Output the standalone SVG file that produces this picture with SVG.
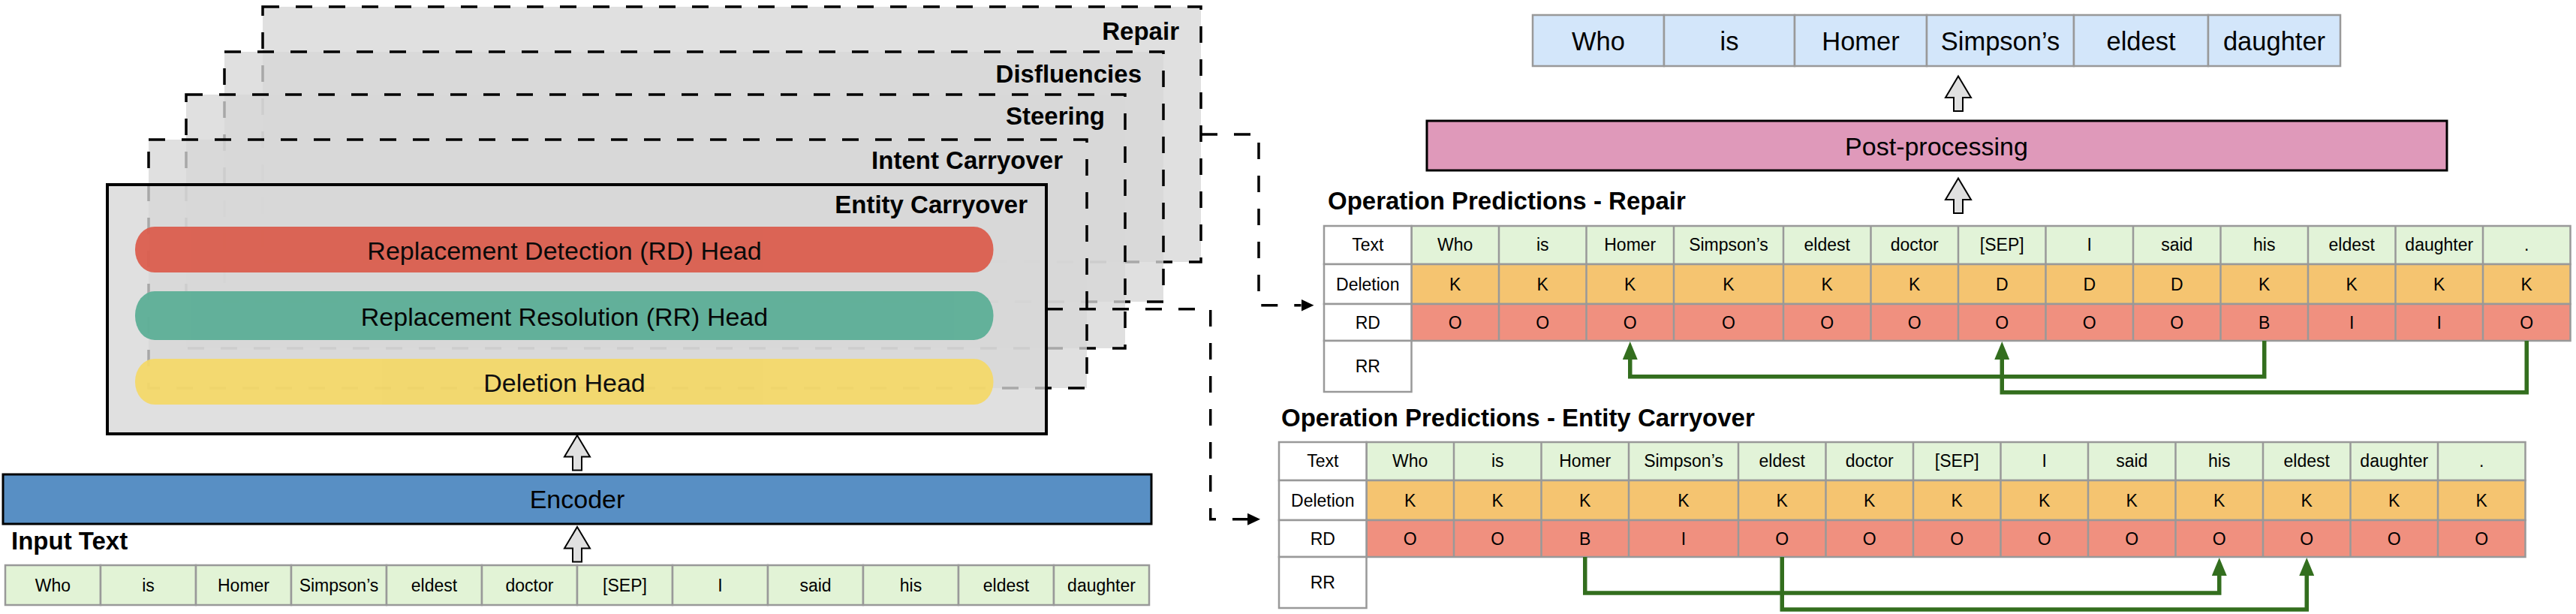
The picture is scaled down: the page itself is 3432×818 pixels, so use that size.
<svg xmlns="http://www.w3.org/2000/svg" width="3432" height="818" viewBox="0 0 3432 818">
<defs>
<style>
text{font-family:"Liberation Sans",Arial,Helvetica,sans-serif;fill:#000}
.b{font-weight:bold;font-size:33px}
.e{text-anchor:end}
.m{text-anchor:middle}
.h{font-size:34px}
.c{font-size:23px}
.stk{fill:#d7d7d7;fill-opacity:0.78;stroke:#000;stroke-width:3.5;stroke-dasharray:22 22}
.ent{fill:#d7d7d7;fill-opacity:0.78;stroke:#000;stroke-width:4}
.dc{fill:none;stroke:#000;stroke-width:3.5;stroke-dasharray:22 22}
.gr{fill:none;stroke:#336e1e;stroke-width:5.5}
.blk{fill:#e0e0e0;stroke:#000;stroke-width:2}
.cellb{stroke:#999;stroke-width:2.5}
.lc{fill:#fff;stroke:#999;stroke-width:2.5}
.vl{fill:none;stroke:#999;stroke-width:2.5}
</style>
<marker id="ahb" viewBox="0 0 17 16" markerWidth="17" markerHeight="16" refX="0" refY="8" orient="auto" markerUnits="userSpaceOnUse"><path d="M0,0 L17,8 L0,16 Z" fill="#000"/></marker>
<marker id="ahg" viewBox="0 0 24 20" markerWidth="24" markerHeight="20" refX="0" refY="10" orient="auto" markerUnits="userSpaceOnUse"><path d="M0,0 L24,10 L0,20 Z" fill="#336e1e"/></marker>
<path id="blkarrow" class="blk" d="M0,0 L17,28.5 L6,28.5 L6,46.5 L-6,46.5 L-6,28.5 L-17,28.5 Z"/>
</defs>
<rect width="3432" height="818" fill="#fff"/>

<g id="repair-box">
<rect class="stk" x="350" y="9" width="1250" height="340"/>
<text class="b e" x="1571" y="53">Repair</text>
</g>
<g id="disfluencies-box">
<rect class="stk" x="299" y="69" width="1251" height="333"/>
<text class="b e" x="1521" y="110">Disfluencies</text>
</g>
<g id="steering-box">
<rect class="stk" x="248" y="126" width="1251" height="338"/>
<text class="b e" x="1472" y="166">Steering</text>
</g>
<g id="intent-box">
<rect class="stk" x="198" y="186" width="1250" height="331"/>
<text class="b e" x="1416" y="225">Intent Carryover</text>
</g>
<g id="entity-box">
<rect class="ent" x="143" y="246" width="1251" height="332"/>
<text class="b e" x="1369" y="284">Entity Carryover</text>
<g id="rd-head" opacity="0.95">
<rect x="180" y="302" width="1143.5" height="61" rx="26" ry="30" fill="#db5e4e"/>
<text class="h m" x="752" y="345.5">Replacement Detection (RD) Head</text>
</g>
<g id="rr-head" opacity="0.97">
<rect x="180" y="388" width="1143.5" height="65" rx="26" ry="32" fill="#5faf98"/>
<text class="h m" x="752" y="433.5">Replacement Resolution (RR) Head</text>
</g>
<g id="deletion-head" opacity="0.93">
<rect x="180" y="478" width="1143.5" height="61" rx="26" ry="30" fill="#f4d867"/>
<text class="h m" x="752" y="521.5">Deletion Head</text>
</g>
</g>

<g id="encoder">
<rect x="4" y="632" width="1530" height="66" fill="#588fc4" stroke="#000" stroke-width="3"/>
<text class="h m" x="769" y="677">Encoder</text>
</g>

<g id="input-text">
<text class="b" x="15" y="732">Input Text</text>
<g class="cellb" fill="#e2f3d6">
<rect x="7" y="753" width="127" height="53"/><rect x="134" y="753" width="127" height="53"/><rect x="261" y="753" width="127" height="53"/><rect x="388" y="753" width="127" height="53"/><rect x="515" y="753" width="127" height="53"/><rect x="642" y="753" width="127" height="53"/><rect x="769" y="753" width="127" height="53"/><rect x="896" y="753" width="127" height="53"/><rect x="1023" y="753" width="127" height="53"/><rect x="1150" y="753" width="127" height="53"/><rect x="1277" y="753" width="127" height="53"/><rect x="1404" y="753" width="127" height="53"/>
</g>
<g class="c m">
<text x="70.5" y="788">Who</text><text x="197.5" y="788">is</text><text x="324.5" y="788">Homer</text><text x="451.5" y="788">Simpson’s</text><text x="578.5" y="788">eldest</text><text x="705.5" y="788">doctor</text><text x="832.5" y="788">[SEP]</text><text x="959.5" y="788">I</text><text x="1086.5" y="788">said</text><text x="1213.5" y="788">his</text><text x="1340.5" y="788">eldest</text><text x="1467.5" y="788">daughter</text>
</g>
</g>

<g id="output-text">
<g class="cellb" fill="#d3e6fa" stroke-width="3">
<rect x="2042" y="20" width="175" height="68"/><rect x="2217" y="20" width="174" height="68"/><rect x="2391" y="20" width="176" height="68"/><rect x="2567" y="20" width="196" height="68"/><rect x="2763" y="20" width="179" height="68"/><rect x="2942" y="20" width="176" height="68"/>
</g>
<g class="h m">
<text x="2129.5" y="67" font-size="34.5">Who</text><text x="2304" y="67" font-size="34.5">is</text><text x="2479" y="67" font-size="34.5">Homer</text><text x="2665" y="67" font-size="34.5">Simpson’s</text><text x="2852.5" y="67" font-size="34.5">eldest</text><text x="3030" y="67" font-size="34.5">daughter</text>
</g>
</g>

<g id="post-processing">
<rect x="1901" y="161" width="1359" height="66" fill="#df99ba" stroke="#000" stroke-width="3"/>
<text class="h m" x="2580" y="206.5" font-size="35">Post-processing</text>
</g>

<g id="op-repair">
<text class="b" x="1769" y="279">Operation Predictions - Repair</text>
<rect x="1880.5" y="301" width="1544" height="51" fill="#e2f3d8" class="cellb"/>
<rect x="1880.5" y="352" width="1544" height="53" fill="#f5c470" class="cellb"/>
<rect x="1880.5" y="405" width="1544" height="49" fill="#f0907f" class="cellb"/>
<path class="vl" d="M1997 301V454M2113.5 301V454M2230 301V454M2376 301V454M2492.5 301V454M2609 301V454M2725.5 301V454M2842 301V454M2958.5 301V454M3075 301V454M3191.5 301V454M3308 301V454"/>
<rect class="lc" x="1764" y="301" width="116.5" height="51"/>
<rect class="lc" x="1764" y="352" width="116.5" height="53"/>
<rect class="lc" x="1764" y="405" width="116.5" height="49"/>
<rect class="lc" x="1764" y="454" width="116.5" height="68"/>
<g class="c m">
<text x="1822.25" y="334">Text</text><text x="1822.25" y="386.5">Deletion</text><text x="1822.25" y="437.5">RD</text><text x="1822.25" y="496">RR</text>
<text x="1938.75" y="334">Who</text><text x="2055.25" y="334">is</text><text x="2171.75" y="334">Homer</text><text x="2303" y="334">Simpson’s</text><text x="2434.25" y="334">eldest</text><text x="2550.75" y="334">doctor</text><text x="2667.25" y="334">[SEP]</text><text x="2783.75" y="334">I</text><text x="2900.25" y="334">said</text><text x="3016.75" y="334">his</text><text x="3133.25" y="334">eldest</text><text x="3249.75" y="334">daughter</text><text x="3366.25" y="334">.</text>
<text x="1938.75" y="386.5">K</text><text x="2055.25" y="386.5">K</text><text x="2171.75" y="386.5">K</text><text x="2303" y="386.5">K</text><text x="2434.25" y="386.5">K</text><text x="2550.75" y="386.5">K</text><text x="2667.25" y="386.5">D</text><text x="2783.75" y="386.5">D</text><text x="2900.25" y="386.5">D</text><text x="3016.75" y="386.5">K</text><text x="3133.25" y="386.5">K</text><text x="3249.75" y="386.5">K</text><text x="3366.25" y="386.5">K</text>
<text x="1938.75" y="437.5">O</text><text x="2055.25" y="437.5">O</text><text x="2171.75" y="437.5">O</text><text x="2303" y="437.5">O</text><text x="2434.25" y="437.5">O</text><text x="2550.75" y="437.5">O</text><text x="2667.25" y="437.5">O</text><text x="2783.75" y="437.5">O</text><text x="2900.25" y="437.5">O</text><text x="3016.75" y="437.5">B</text><text x="3133.25" y="437.5">I</text><text x="3249.75" y="437.5">I</text><text x="3366.25" y="437.5">O</text>
</g>
</g>

<g id="op-entity" transform="translate(-60,288)">
<text class="b" x="1767" y="280">Operation Predictions - Entity Carryover</text>
<rect x="1880.5" y="301" width="1544" height="51" fill="#e2f3d8" class="cellb"/>
<rect x="1880.5" y="352" width="1544" height="53" fill="#f5c470" class="cellb"/>
<rect x="1880.5" y="405" width="1544" height="49" fill="#f0907f" class="cellb"/>
<path class="vl" d="M1997 301V454M2113.5 301V454M2230 301V454M2376 301V454M2492.5 301V454M2609 301V454M2725.5 301V454M2842 301V454M2958.5 301V454M3075 301V454M3191.5 301V454M3308 301V454"/>
<rect class="lc" x="1764" y="301" width="116.5" height="51"/>
<rect class="lc" x="1764" y="352" width="116.5" height="53"/>
<rect class="lc" x="1764" y="405" width="116.5" height="49"/>
<rect class="lc" x="1764" y="454" width="116.5" height="68"/>
<g class="c m">
<text x="1822.25" y="334">Text</text><text x="1822.25" y="386.5">Deletion</text><text x="1822.25" y="437.5">RD</text><text x="1822.25" y="496">RR</text>
<text x="1938.75" y="334">Who</text><text x="2055.25" y="334">is</text><text x="2171.75" y="334">Homer</text><text x="2303" y="334">Simpson’s</text><text x="2434.25" y="334">eldest</text><text x="2550.75" y="334">doctor</text><text x="2667.25" y="334">[SEP]</text><text x="2783.75" y="334">I</text><text x="2900.25" y="334">said</text><text x="3016.75" y="334">his</text><text x="3133.25" y="334">eldest</text><text x="3249.75" y="334">daughter</text><text x="3366.25" y="334">.</text>
<text x="1938.75" y="386.5">K</text><text x="2055.25" y="386.5">K</text><text x="2171.75" y="386.5">K</text><text x="2303" y="386.5">K</text><text x="2434.25" y="386.5">K</text><text x="2550.75" y="386.5">K</text><text x="2667.25" y="386.5">K</text><text x="2783.75" y="386.5">K</text><text x="2900.25" y="386.5">K</text><text x="3016.75" y="386.5">K</text><text x="3133.25" y="386.5">K</text><text x="3249.75" y="386.5">K</text><text x="3366.25" y="386.5">K</text>
<text x="1938.75" y="437.5">O</text><text x="2055.25" y="437.5">O</text><text x="2171.75" y="437.5">B</text><text x="2303" y="437.5">I</text><text x="2434.25" y="437.5">O</text><text x="2550.75" y="437.5">O</text><text x="2667.25" y="437.5">O</text><text x="2783.75" y="437.5">O</text><text x="2900.25" y="437.5">O</text><text x="3016.75" y="437.5">O</text><text x="3133.25" y="437.5">O</text><text x="3249.75" y="437.5">O</text><text x="3366.25" y="437.5">O</text>
</g>
</g>

<g id="connectors">
<path class="dc" d="M1600,179 H1677 V406.7 H1733.5" marker-end="url(#ahb)"/>
<path class="dc" d="M1394,411.7 H1612.7 V691.7 H1662" marker-end="url(#ahb)"/>
<use href="#blkarrow" x="769" y="580"/>
<use href="#blkarrow" x="769" y="702"/>
<use href="#blkarrow" x="2609" y="101.5"/>
<use href="#blkarrow" x="2609" y="237.5"/>
<path class="gr" d="M3016.75,454 V501.7 H2171.75 V479" marker-end="url(#ahg)"/>
<path class="gr" d="M3366.25,454 V522.8 H2667.25 V479" marker-end="url(#ahg)"/>
<g transform="translate(-60,288)">
<path class="gr" d="M2171.75,454 V502 H3016.75 V479" marker-end="url(#ahg)"/>
<path class="gr" d="M2434.25,454 V524 H3133.25 V479" marker-end="url(#ahg)"/>
</g>
</g>
</svg>
